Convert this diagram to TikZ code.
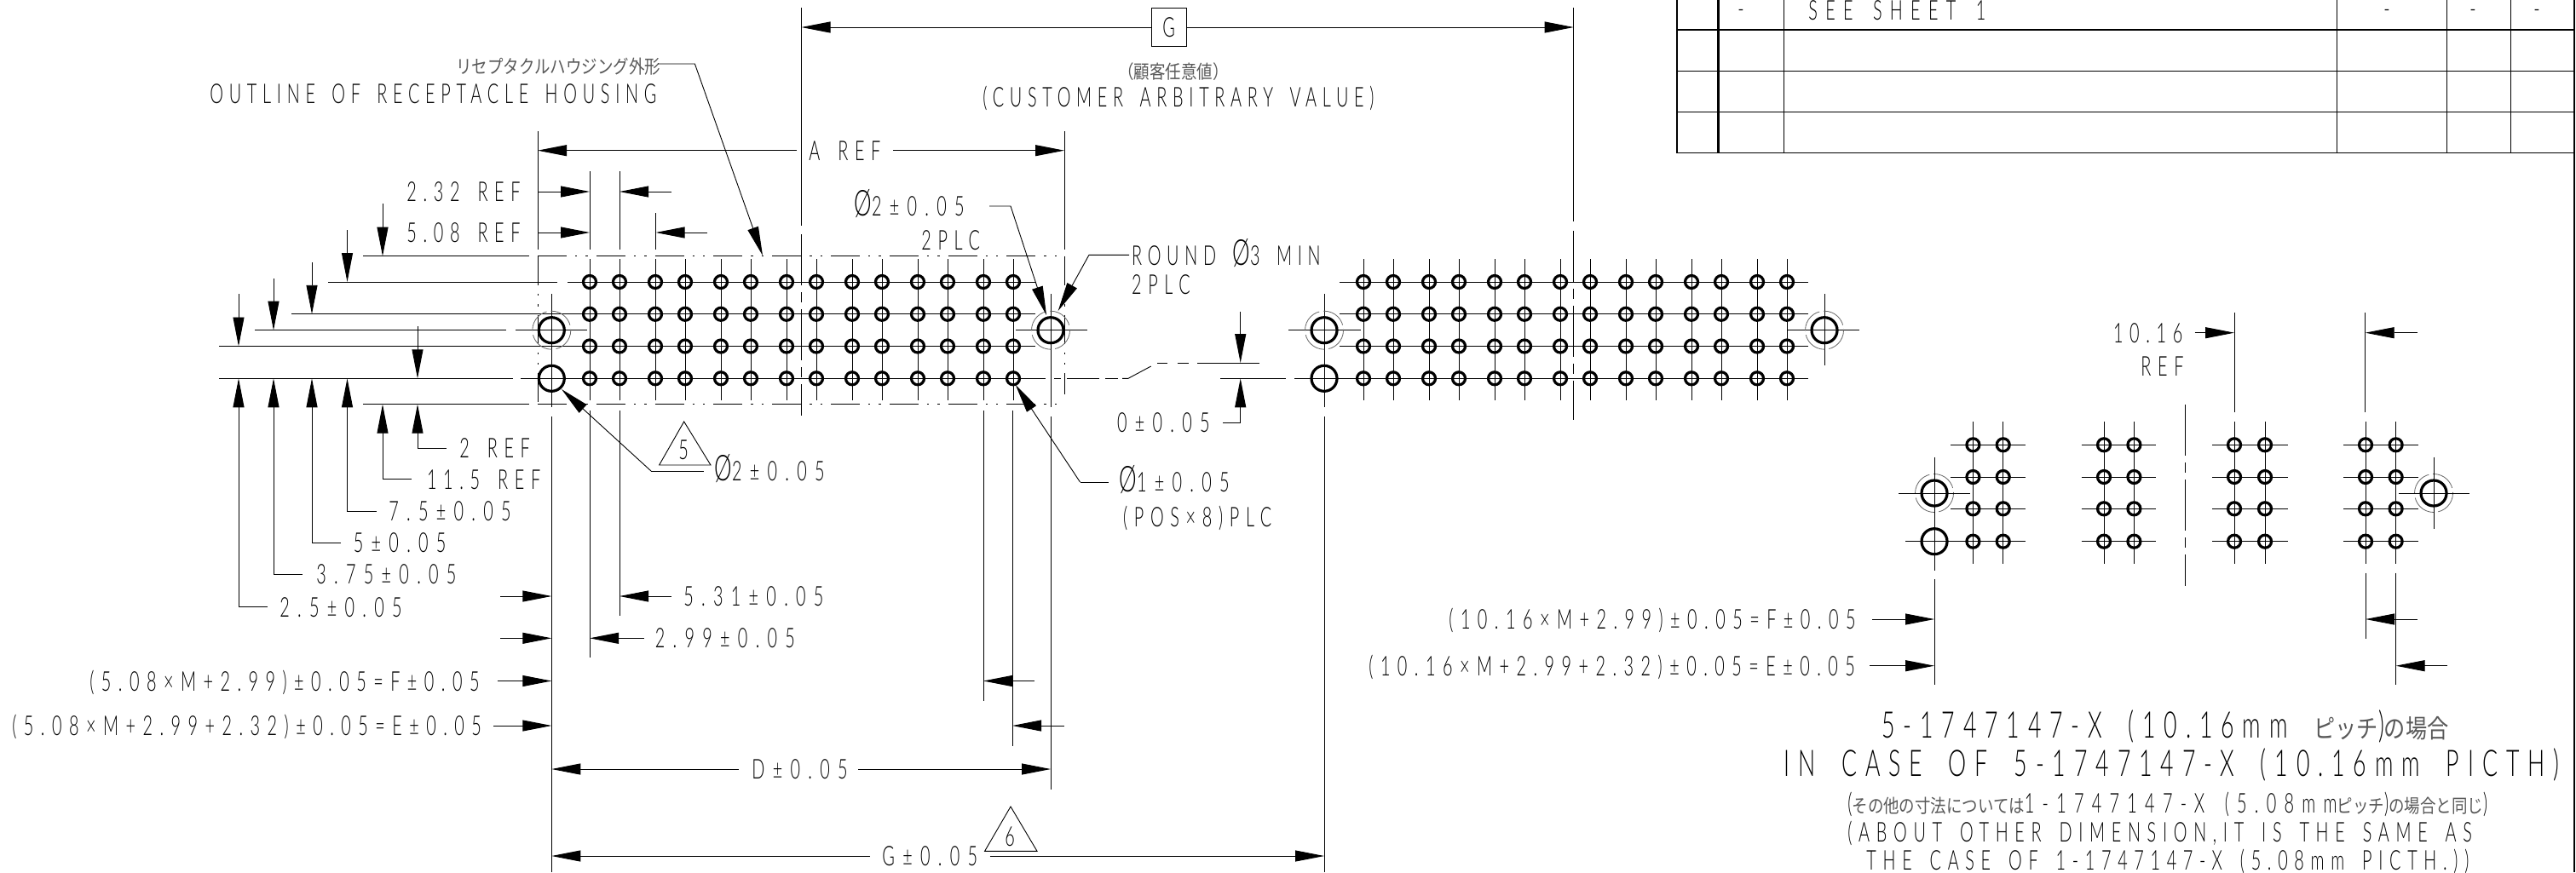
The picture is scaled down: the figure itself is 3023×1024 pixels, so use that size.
\documentclass[tikz,border=0pt]{standalone}
\usepackage{fontspec}
\usetikzlibrary{arrows.meta}
\newfontfamily\dwgfont[FakeStretch=0.62,LetterSpace=24,WordSpace=1.6]{Lato Light}
\newfontfamily\numfont[FakeStretch=0.62,LetterSpace=29,WordSpace=1.6]{Lato Light}
\newfontfamily\frmfont[FakeStretch=0.62,LetterSpace=26.5,WordSpace=1.6]{Lato Light}
\newfontfamily\capfont[FakeStretch=0.62,LetterSpace=21,WordSpace=1.6]{Lato Light}
\newfontfamily\bigdwgfont[FakeStretch=0.62,LetterSpace=23,WordSpace=1.8]{Lato Light}
\newfontfamily\jpfont[FakeStretch=0.84]{Noto Sans CJK JP}
\newcommand{\jp}[1]{{\jpfont\fontsize{11}{11}\selectfont\color{black!65}#1}}
\newcommand{\jpbig}[1]{{\jpfont\fontsize{15}{15}\selectfont\color{black!65}#1}}
\newcommand{\dia}{{\fontsize{21}{21}\selectfont Ø}}

\tikzset{
  dimtxt/.style={inner sep=0,anchor=west,text height=11.5pt,text depth=0pt,
    font=\dwgfont\fontsize{16}{16}\selectfont},
  numtxt/.style={dimtxt,font=\numfont\fontsize{16}{16}\selectfont},
  frmtxt/.style={dimtxt,font=\frmfont\fontsize{16}{16}\selectfont},
  captxt/.style={dimtxt,font=\capfont\fontsize{16}{16}\selectfont},
  bigtxt/.style={inner sep=0,anchor=west,text height=15.5pt,text depth=0pt,
    font=\bigdwgfont\fontsize{21.5}{21.5}\selectfont},
  dimline/.style={line width=0.45pt},
  pin/.style={line width=1.6pt},
  chain/.style={line width=0.5pt,dash pattern=on 17pt off 5pt on 1.2pt off 5pt on 1.2pt off 5pt},
  centerline/.style={line width=0.45pt,dash pattern=on 30pt off 4pt on 6pt off 4pt},
  ring/.style={line width=0.4pt,black!60,dash pattern=on 15pt off 2.5pt}
}

\begin{document}
\begin{tikzpicture}[x=0.5pt,y=-0.5pt,>={Triangle[length=17pt,width=6.5pt]}]
   \useasboundingbox (0,0) rectangle (3023,1024);

   %% Tabelle
   \draw[line width=0.8pt] (1968,0) -- (1968,179.5);
   \draw[line width=1.5pt] (2016.5,0) -- (2016.5,179.5);
   \draw[dimline] (2093,0) -- (2093,179.5);
   \draw[dimline] (2742.5,0) -- (2742.5,179.5);
   \draw[dimline] (2871,0) -- (2871,179.5);
   \draw[dimline] (2946,0) -- (2946,179.5);
   \draw[line width=0.7pt] (1968,35) -- (3021,35);
   \draw[line width=0.7pt] (1968,83.5) -- (3021,83.5);
   \draw[line width=0.7pt] (1968,131.5) -- (3021,131.5);
   \draw[line width=0.7pt] (1968,179.5) -- (3021,179.5);
   \draw[line width=1pt] (3021,0) -- (3021,1024);
   \node[dimtxt] (tabdash1) at (2039,10) {-};
   \node[numtxt] (tabsee) at (2122,12) {SEE SHEET 1};
   \node[dimtxt] (tabdash2) at (2797,10) {-};
   \node[dimtxt] (tabdash3) at (2898,10) {-};
   \node[dimtxt] (tabdash4) at (2973,10) {-};

   %% Linke Ansicht: Kontur
   \draw[chain] (631,300.7) -- (1249,300.7);
   \draw[chain] (631,474.7) -- (1249,474.7);
   \draw[chain] (631,300.7) -- (631,474.7);
   \draw[chain] (1249,300.7) -- (1249,463);
   \draw[dimline] (631,154) -- (631,293);
   \draw[dimline] (1249,154) -- (1249,293);

   %% Linke Ansicht: Linien
   \draw[dimline] (426,300.7) -- (621,300.7);
   \draw[dimline] (426,474.7) -- (621,474.7);
   \draw[dimline] (385,331) -- (654,331);
   \draw[dimline] (666,331) -- (1215,331);
   \draw[dimline] (342,368.8) -- (1215,368.8);
   \draw[dimline] (257,406.5) -- (1215,406.5);
   \draw[dimline] (299,387.7) -- (594,387.7);
   \draw[dimline] (605,387.7) -- (689,387.7);
   \draw[dimline] (1192,387.7) -- (1276,387.7);
   \draw[dimline] (257,444.3) -- (602,444.3);
   \draw[dimline] (611,444.3) -- (1227,444.3);
   \draw[dimline] (1237,444.3) -- (1245,444.3);
   \draw[dimline] (1252,444.3) -- (1290,444.3);
   \draw[dimline] (1297,444.3) -- (1312,444.3);
   \draw[dimline] (1317,444.3) -- (1324,444.3) -- (1350.7,430);
   \draw[dimline] (1358,426) -- (1370,426);
   \draw[dimline] (1381.7,426) -- (1395,426);
   \draw[dimline] (1405,426) -- (1478,426);
   \foreach \c in {692,727,769,804,846,881,923,958,1000,1035,1077,1112,1154,1189} {
     \draw[dimline] (\c,304) -- (\c,470);
     \foreach \r in {331,368.8,406.5,444.3} {
       \draw[pin] (\c,\r) circle [radius=7.5];
     }
   }
   \draw[dimline] (692,201) -- (692,293);
   \draw[dimline] (727,201) -- (727,293);
   \draw[dimline] (769.5,250) -- (769.5,293);
   \draw[dimline] (692,482) -- (692,772);
   \draw[dimline] (727,482) -- (727,723);
   \draw[dimline] (1154,482) -- (1154,823);
   \draw[dimline] (1188,482) -- (1188,876);

   %% Rechte Ansicht
   \draw[dimline] (1571.7,331) -- (2122,331);
   \draw[dimline] (1571.7,368.8) -- (2122,368.8);
   \draw[dimline] (1571.7,406.5) -- (2122,406.5);
   \draw[dimline] (1519,444.3) -- (2122,444.3);
   \draw[dimline] (1432,444.3) -- (1509,444.3);
   \draw[dimline] (1512,387.7) -- (1597,387.7);
   \draw[dimline] (2098,387.7) -- (2182,387.7);
   \draw[dimline] (2141,345) -- (2141,429);
   \foreach \c in {1600,1635,1677,1712,1754,1789,1831,1866,1908,1943,1985,2020,2062,2097} {
     \draw[dimline] (\c,304) -- (\c,470);
     \foreach \r in {331,368.8,406.5,444.3} {
       \draw[pin] (\c,\r) circle [radius=7.5];
     }
   }

   %% Grosse Bohrungen
   \draw[dimline] (647.3,345) -- (647.3,478);
   \draw[dimline] (647.3,489) -- (647.3,1024);
   \draw[dimline] (1233,345) -- (1233,478);
   \draw[dimline] (1233,489) -- (1233,927);
   \draw[dimline] (1554,345) -- (1554,478);
   \draw[dimline] (1554,489) -- (1554,1024);
   \foreach \x in {647.3,1554} {
     \draw[pin] (\x,444.3) circle [radius=15];
   }
   \foreach \x/\y in {647.3/387.7,1233/387.7,1554/387.7,2141/387.7,2270/579,2856/579} {
     \draw[pin] (\x,\y) circle [radius=15];
     \draw[ring] (\x,\y) circle [radius=22.5];
   }

   %% Mittellinien
   \draw[dimline] (940.5,9) -- (940.5,265);
   \draw[centerline] (940.5,275) -- (940.5,488);
   \draw[dimline] (1846.7,9) -- (1846.7,260);
   \draw[centerline] (1846.7,271) -- (1846.7,493);
   \draw[centerline] (2564,475) -- (2564,688);

   %% Obere Masse
   \draw[dimline,->] (1351.5,32) -- (940.5,32);
   \draw[dimline,->] (1392,32) -- (1846.7,32);
   \draw[dimline] (1351.5,9.3) rectangle (1392,54.3);
   \node[dimtxt] (gbox) at (1364,32) {G};
   \node[dimtxt] (gjp) at (1312,80.7) {\jp{（顧客任意値）}};
   \node[captxt] (gen) at (1153,114) {(CUSTOMER ARBITRARY VALUE)};

   \draw[dimline,->] (935,176.7) -- (631,176.7);
   \draw[dimline,->] (1048,176.7) -- (1249,176.7);
   \node[dimtxt] (aref) at (949,176.7) {A REF};

   \node[dimtxt] (outjp) at (535,75) {\jp{リセプタクルハウジング外形}};
   \node[captxt] (outen) at (246,110) {OUTLINE OF RECEPTACLE HOUSING};
   \draw[dimline,->] (772,75) -- (815.4,75) -- (895,300);

   \node[numtxt] (dia2) at (1002,242) {\dia{}2±0.05};
   \node[dimtxt] (dia2plc) at (1081,282) {2PLC};
   \draw[dimline,->] (1161,242) -- (1186,242) -- (1228,370);
   \node[captxt] (round) at (1327.7,299.7) {ROUND \dia{}3 MIN};
   \node[dimtxt] (roundplc) at (1327.7,334) {2PLC};
   \draw[dimline,->] (1325,299.3) -- (1278,299.3) -- (1241.7,365);

   \draw[dimline,->] (631,225) -- (692,225);
   \draw[dimline,->] (788,225) -- (727,225);
   \node[dimtxt] (ref232) at (477,225) {2.32 REF};
   \draw[dimline,->] (631,273) -- (692,273);
   \draw[dimline,->] (830,273) -- (769.5,273);
   \node[dimtxt] (ref508) at (477,273) {5.08 REF};

   %% Linke Masse
   \draw[dimline,->] (280,345) -- (280,406.5);
   \draw[dimline,->] (321,327) -- (321,387.7);
   \draw[dimline,->] (366,308) -- (366,368.8);
   \draw[dimline,->] (407.5,270) -- (407.5,331);
   \draw[dimline,->] (449,239) -- (449,300.7);
   \draw[dimline,->] (490,383) -- (490,444.3);

   \draw[dimline,->] (314,712.7) -- (280,712.7) -- (280,444.3);
   \draw[dimline,->] (355,674) -- (321,674) -- (321,444.3);
   \draw[dimline,->] (400,637) -- (366,637) -- (366,444.3);
   \draw[dimline,->] (442,600) -- (407.5,600) -- (407.5,444.3);
   \draw[dimline,->] (483,562.7) -- (449,562.7) -- (449,474.7);
   \draw[dimline,->] (524,526) -- (490,526) -- (490,474.7);
   \node[numtxt] (d25) at (328,712.7) {2.5±0.05};
   \node[numtxt] (d375) at (371,674) {3.75±0.05};
   \node[numtxt] (d5) at (414.5,637) {5±0.05};
   \node[numtxt] (d75) at (456,600) {7.5±0.05};
   \node[dimtxt] (d115) at (500.6,562.7) {11.5 REF};
   \node[dimtxt] (d2) at (539,526) {2 REF};

   %% Untere Masse
   \draw[dimline,->] (764,553) -- (659,457);
   \draw[dimline] (764,553) -- (826,553);
   \draw[dimline] (773.6,546) -- (802.7,495) -- (834,546) -- cycle;
   \node[dimtxt] (tri5) at (796,528) {5};
   \node[numtxt] (dia2b) at (838,553) {\dia{}2±0.05};

   \draw[dimline,->] (1267.5,566) -- (1191.7,451.7);
   \draw[dimline] (1267.5,566) -- (1301,566);
   \node[numtxt] (dia1) at (1313,566) {\dia{}1±0.05};
   \node[dimtxt] (pos) at (1317.7,607) {(POS×8)PLC};

   \draw[dimline,->] (1455.7,366) -- (1455.7,426);
   \draw[dimline,->] (1435,496) -- (1455.7,496) -- (1455.7,444.3);
   \node[numtxt] (d0) at (1310.7,496) {0±0.05};

   \draw[dimline,->] (587,700) -- (647.3,700);
   \draw[dimline,->] (787.6,700) -- (727,700);
   \node[numtxt] (d531) at (802,700) {5.31±0.05};
   \draw[dimline,->] (587,749.3) -- (647.3,749.3);
   \draw[dimline,->] (755.7,749.3) -- (692,749.3);
   \node[numtxt] (d299) at (768.5,749.3) {2.99±0.05};
   \draw[dimline,->] (583.5,799.5) -- (647.3,799.5);
   \draw[dimline,->] (1214,799.5) -- (1154,799.5);
   \node[frmtxt] (dimf) at (105,799.5) {(5.08×M+2.99)±0.05=F±0.05};
   \draw[dimline,->] (579,852) -- (647.3,852);
   \draw[dimline,->] (1248.5,852) -- (1188,852);
   \node[frmtxt] (dime) at (14,852) {(5.08×M+2.99+2.32)±0.05=E±0.05};

   \draw[dimline,->] (867,903) -- (647.3,903);
   \draw[dimline,->] (1007,903) -- (1233,903);
   \node[numtxt] (dimd) at (882,903) {D±0.05};
   \draw[dimline,->] (1021,1005) -- (647.3,1005);
   \draw[dimline,->] (1161.5,1005) -- (1554,1005);
   \node[numtxt] (dimg) at (1035,1005) {G±0.05};
   \draw[dimline] (1155.6,999.3) -- (1186,947) -- (1217,999.3) -- cycle;
   \node[dimtxt] (tri6) at (1179,982) {6};

   %% Detail 10.16mm
   \foreach \c in {2315.4,2350.7,2469,2504.4,2622,2658,2776,2811.6} {
     \draw[dimline] (\c,495) -- (\c,661.7);
     \foreach \r in {522.3,560,597.3,635.7} {
       \draw[pin] (\c,\r) circle [radius=7.5];
     }
   }
   \foreach \r in {522.3,560,597.3,635.7} {
     \draw[dimline] (2289,\r) -- (2376.6,\r);
     \draw[dimline] (2442.5,\r) -- (2530,\r);
     \draw[dimline] (2596,\r) -- (2684.5,\r);
     \draw[dimline] (2750,\r) -- (2837.5,\r);
   }
   \draw[pin] (2270,635.7) circle [radius=15];
   \draw[dimline] (2228,579) -- (2312,579);
   \draw[dimline] (2236,635.7) -- (2289,635.7);
   \draw[dimline] (2815,579) -- (2898,579);
   \draw[dimline] (2270,536.7) -- (2270,670);
   \draw[dimline] (2270,680) -- (2270,804);
   \draw[dimline] (2856,536.7) -- (2856,620.7);

   \draw[dimline] (2622,367) -- (2622,484);
   \draw[dimline] (2775.7,367) -- (2775.7,484);
   \draw[dimline,->] (2575.6,390.7) -- (2622,390.7);
   \draw[dimline,->] (2837,390.7) -- (2775.7,390.7);
   \node[dimtxt] (d1016) at (2479.6,390.7) {10.16};
   \node[dimtxt] (d1016ref) at (2512,430) {REF};

   \draw[dimline] (2776,672.7) -- (2776,750);
   \draw[dimline] (2811.6,672.7) -- (2811.6,804);
   \draw[dimline,->] (2197,727) -- (2270,727);
   \draw[dimline,->] (2837,727) -- (2776,727);
   \node[frmtxt] (dimf2) at (1700,727) {(10.16×M+2.99)±0.05=F±0.05};
   \draw[dimline,->] (2194,781.7) -- (2270,781.7);
   \draw[dimline,->] (2872,781.7) -- (2811.6,781.7);
   \node[frmtxt] (dime2) at (1606,781.7) {(10.16×M+2.99+2.32)±0.05=E±0.05};

   %% Titel
   \node[bigtxt] (title1) at (2208,851) {5-1747147-X (10.16mm \jpbig{ピッチ})\jpbig{の場合}};
   \node[bigtxt] (title2) at (2093,896) {IN CASE OF 5-1747147-X (10.16mm PICTH)};
   \node[numtxt] (note1) at (2168,943) {(\jp{その他の寸法については}1-1747147-X (5.08mm\jp{ピッチ})\jp{の場合と同じ})};
   \node[dimtxt] (note2) at (2168,977) {(ABOUT OTHER DIMENSION,IT IS THE SAME AS};
   \node[dimtxt] (note3) at (2190,1010) {THE CASE OF 1-1747147-X (5.08mm PICTH.))};
\end{tikzpicture}
\end{document}
